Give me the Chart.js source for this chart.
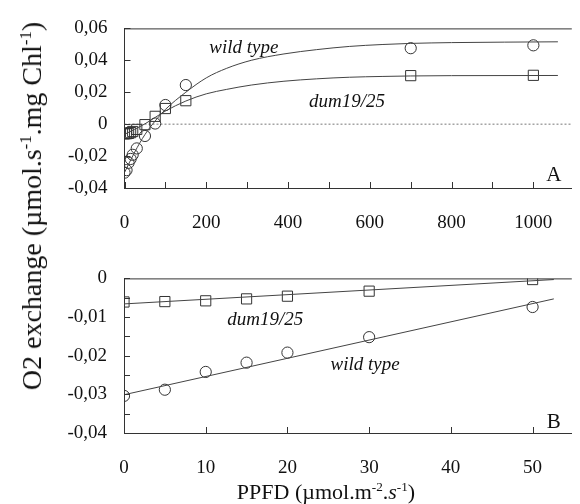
<!DOCTYPE html>
<html>
<head>
<meta charset="utf-8">
<script src="https://cdn.jsdelivr.net/npm/chart.js@4.4.1/dist/chart.umd.min.js"></script>
<style>
  body { margin: 0; background: #fff; }
  #wrap { position: relative; width: 580px; height: 504px; overflow: hidden; font-family: "Liberation Serif", serif; color: #111; }
  canvas { position: absolute; left: 0; }
  #plotA { top: 0; }
  #plotB { top: 250px; }
  #ytitle { position: absolute; left: 32px; top: 206px; transform: translate(-50%, -50%) rotate(-90deg); white-space: nowrap; font-size: 28px; }
  #xtitle { position: absolute; left: 326px; top: 492px; transform: translate(-50%, -50%); white-space: nowrap; font-size: 22px; }
  sup { font-size: 0.6em; vertical-align: 0.6em; line-height: 0; }
</style>
</head>
<body>
<div id="wrap">
  <canvas id="plotA" width="580" height="250"></canvas>
  <canvas id="plotB" width="580" height="254"></canvas>
  <div id="ytitle">O2 exchange (µmol.s<sup>-1</sup>.mg Chl<sup>-1</sup>)</div>
  <div id="xtitle">PPFD (µmol.m<sup>-2</sup>.<i>s</i><sup>-1</sup>)</div>
</div>
<script>
// measured points (PPFD, O2 exchange)
const ppfdLow = [0, 5, 10, 15, 20, 30, 50];
const wildTypeLow = [-0.0304, -0.0288, -0.0242, -0.0218, -0.0192, -0.0152, -0.0074];
const dumLow = [-0.0061, -0.0060, -0.0058, -0.0053, -0.0046, -0.0033, -0.0003];

const ppfdHigh = [75, 100, 150, 700, 1000];
const wildTypeHigh = [0.0004, 0.0120, 0.0245, 0.0476, 0.0494];
const dumHigh = [0.0049, 0.0098, 0.0147, 0.0304, 0.0306];

// fitted curves, panel A
const fitPpfdA = [0, 25, 50, 75, 100, 150, 200, 250, 310, 390, 470, 550, 630, 700, 800, 1060];
const wildTypeFitA = [-0.0303, -0.0175, -0.0065, 0.0020, 0.0092, 0.0200, 0.0290, 0.0350, 0.0400, 0.0440, 0.0467, 0.0487, 0.0499, 0.0506, 0.0511, 0.0516];
const dumFitA = [-0.0064, -0.0032, 0.0002, 0.0042, 0.0082, 0.0145, 0.0190, 0.0218, 0.0245, 0.0269, 0.0284, 0.0294, 0.0299, 0.0302, 0.0304, 0.0305];

// fitted lines, panel B
const fitPpfdB = [0, 52.6];
const wildTypeFitB = [-0.0301, -0.0053];
const dumFitB = [-0.0066, -0.0003];

// axis ticks
const xTicksA = [0, 100, 200, 300, 400, 500, 600, 700, 800, 900, 1000];
const yTicksA = [-0.04, -0.02, 0, 0.02, 0.04, 0.06];
const xTicksB = [0, 10, 20, 30, 40, 50];
const yTicksB = [-0.04, -0.035, -0.03, -0.025, -0.02, -0.015, -0.01, -0.005, 0];

const ink = '#333';
Chart.defaults.font.family = '"Liberation Serif", "Times New Roman", serif';
Chart.defaults.font.size = 19;
Chart.defaults.color = '#111';

function pairs(xs, ys) {
  return xs.map(function(x, i) { return {x: x, y: ys[i]}; });
}

function commaLabel(v) {
  if (Math.abs(v) < 1e-9) return '0';
  return v.toFixed(2).replace('.', ',');
}

function curve(xs, ys, smooth) {
  return {
    data: pairs(xs, ys),
    showLine: true,
    borderColor: '#444',
    borderWidth: 1,
    pointRadius: 0,
    cubicInterpolationMode: smooth ? 'monotone' : 'default',
    fill: false
  };
}

function markers(xs, ys, style) {
  return {
    data: pairs(xs, ys),
    showLine: false,
    pointStyle: style,
    pointRadius: style === 'rect' ? 7.2 : 5.6,
    pointBorderColor: ink,
    pointBackgroundColor: 'rgba(0,0,0,0)',
    pointBorderWidth: 1
  };
}

// frame top line, inward tick marks, zero line and text labels
const paperPlugin = {
  id: 'paper',
  beforeDatasetsDraw(chart, args, opts) {
    if (!opts.zeroLine) return;
    const ctx = chart.ctx, area = chart.chartArea;
    const py = chart.scales.y.getPixelForValue(0);
    ctx.save();
    ctx.strokeStyle = '#777';
    ctx.lineWidth = 1;
    ctx.setLineDash([2, 2]);
    ctx.beginPath();
    ctx.moveTo(area.left, py);
    ctx.lineTo(area.right, py);
    ctx.stroke();
    ctx.restore();
  },
  afterDraw(chart, args, opts) {
    const ctx = chart.ctx, area = chart.chartArea;
    const xs = chart.scales.x, ys = chart.scales.y;
    ctx.save();
    ctx.strokeStyle = ink;
    ctx.lineWidth = 1;
    ctx.beginPath();
    ctx.moveTo(area.left, area.top + 0.5);
    ctx.lineTo(area.right, area.top + 0.5);
    xs.ticks.forEach(function(t) {
      const px = Math.round(xs.getPixelForValue(t.value)) + 0.5;
      ctx.moveTo(px, area.bottom);
      ctx.lineTo(px, area.bottom - 6);
    });
    ys.ticks.forEach(function(t) {
      const py = Math.round(ys.getPixelForValue(t.value)) + 0.5;
      ctx.moveTo(area.left, py);
      ctx.lineTo(area.left + 6, py);
    });
    ctx.stroke();
    ctx.fillStyle = '#111';
    ctx.textAlign = 'center';
    ctx.textBaseline = 'middle';
    (opts.labels || []).forEach(function(l) {
      ctx.font = (l.italic ? 'italic ' : '') + l.size + 'px "Liberation Serif", serif';
      ctx.fillText(l.text, xs.getPixelForValue(l.x), ys.getPixelForValue(l.y));
    });
    ctx.restore();
  }
};

function makeChart(id, cfg) {
  return new Chart(document.getElementById(id), {
    type: 'scatter',
    plugins: [paperPlugin],
    data: { datasets: cfg.datasets },
    options: {
      responsive: false,
      animation: false,
      devicePixelRatio: 1,
      layout: { padding: { left: 0, right: 0, top: cfg.top, bottom: 0 } },
      plugins: {
        legend: { display: false },
        tooltip: { enabled: false },
        paper: { zeroLine: cfg.zeroLine, labels: cfg.labels }
      },
      scales: {
        x: {
          type: 'linear',
          min: cfg.xMin,
          max: cfg.xMax,
          grid: { display: false, drawTicks: false },
          border: { display: true, color: ink, width: 1 },
          afterBuildTicks: function(scale) { scale.ticks = cfg.xTicks.map(function(v) { return {value: v}; }); },
          afterFit: function(scale) { scale.height = cfg.xAxisHeight; },
          ticks: {
            padding: 24,
            autoSkip: false,
            maxRotation: 0,
            callback: cfg.xLabel
          }
        },
        y: {
          type: 'linear',
          min: cfg.yMin,
          max: cfg.yMax,
          grid: { display: false, drawTicks: false },
          border: { display: true, color: ink, width: 1 },
          afterBuildTicks: function(scale) { scale.ticks = cfg.yTicks.map(function(v) { return {value: v}; }); },
          afterFit: function(scale) { scale.width = cfg.yAxisWidth; },
          ticks: {
            padding: 17,
            autoSkip: false,
            callback: cfg.yLabel
          }
        }
      }
    }
  });
}

const chartA = makeChart('plotA', {
  top: 18,
  xMin: 0, xMax: 1094,
  yMin: -0.04, yMax: 0.06,
  xTicks: xTicksA, yTicks: yTicksA,
  xAxisHeight: 62, yAxisWidth: 124.5,
  zeroLine: true,
  xLabel: function(v) { return v % 200 === 0 ? String(v) : ''; },
  yLabel: function(v) { return commaLabel(v); },
  datasets: [
    curve(fitPpfdA, wildTypeFitA, true),
    curve(fitPpfdA, dumFitA, true),
    markers(ppfdLow.concat(ppfdHigh), wildTypeLow.concat(wildTypeHigh), 'circle'),
    markers(ppfdLow.concat(ppfdHigh), dumLow.concat(dumHigh), 'rect')
  ],
  labels: [
    {text: 'wild type', x: 292, y: 0.0476, italic: true, size: 19},
    {text: 'dum19/25', x: 544, y: 0.0141, italic: true, size: 19},
    {text: 'A', x: 1050, y: -0.0324, italic: false, size: 21}
  ]
});

const chartB = makeChart('plotB', {
  top: 15,
  xMin: 0, xMax: 54.8,
  yMin: -0.04, yMax: 0,
  xTicks: xTicksB, yTicks: yTicksB,
  xAxisHeight: 71, yAxisWidth: 124,
  zeroLine: false,
  xLabel: function(v) { return String(v); },
  yLabel: function(v) {
    const k = Math.round(v * 1000);
    return k % 10 === 0 ? commaLabel(v) : '';
  },
  datasets: [
    curve(fitPpfdB, wildTypeFitB, false),
    curve(fitPpfdB, dumFitB, false),
    markers(ppfdLow, wildTypeLow, 'circle'),
    markers(ppfdLow, dumLow, 'rect')
  ],
  labels: [
    {text: 'dum19/25', x: 17.3, y: -0.0107, italic: true, size: 19},
    {text: 'wild type', x: 29.5, y: -0.0223, italic: true, size: 19},
    {text: 'B', x: 52.6, y: -0.0372, italic: false, size: 21}
  ]
});
</script>
</body>
</html>
